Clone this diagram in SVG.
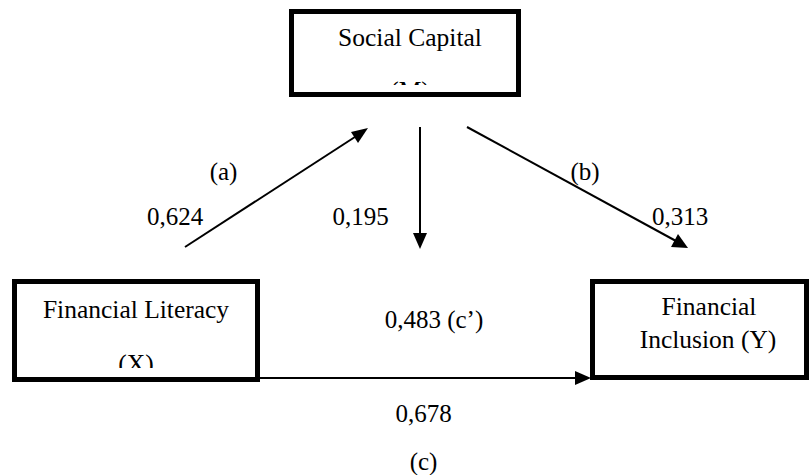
<svg xmlns="http://www.w3.org/2000/svg" width="810" height="475" viewBox="0 0 810 475">
  <style>
    .box { fill: #fff; stroke: #000; stroke-width: 5; }
    .lbl { font-family: 'Liberation Serif', 'DejaVu Serif', serif; font-size: 25.5px; fill: #000; text-anchor: middle; }
    .num { font-family: 'Liberation Serif', 'DejaVu Serif', serif; font-size: 25px; fill: #000; text-anchor: middle; }
  </style>
  <defs>
    <clipPath id="clipM"><rect x="294" y="14" width="222" height="71"/></clipPath>
    <clipPath id="clipX"><rect x="15" y="282" width="242" height="86"/></clipPath>
  </defs>
  <rect width="810" height="475" fill="#fff"/>

  <g id="connectors" stroke="#000" stroke-width="2">
    <line x1="185" y1="247" x2="358" y2="135"/>
    <path d="M368,128 L351,132 L358,143 z" fill="#000" stroke="none"/>
    <line x1="420" y1="127" x2="420" y2="236"/>
    <path d="M413,233 L427,233 L420,249 z" fill="#000" stroke="none"/>
    <line x1="467" y1="127" x2="676" y2="241"/>
    <path d="M688,248 L671,247 L678,234 z" fill="#000" stroke="none"/>
    <line x1="260" y1="378" x2="578" y2="378"/>
    <path d="M591,378 L575,371 L575,385 z" fill="#000" stroke="none"/>
  </g>

  <g id="social-capital">
    <rect class="box" x="291.5" y="11.5" width="227" height="83"/>
    <text class="lbl" x="410" y="46">Social Capital</text>
    <text class="lbl" x="410" y="98.5" clip-path="url(#clipM)">(M)</text>
  </g>

  <g id="financial-literacy">
    <rect class="box" x="14.5" y="281.5" width="243" height="98"/>
    <text class="lbl" x="136" y="318">Financial Literacy</text>
    <text class="lbl" x="136" y="372" clip-path="url(#clipX)">(X)</text>
  </g>

  <g id="financial-inclusion">
    <rect class="box" x="592.5" y="281.5" width="214" height="96"/>
    <text class="lbl" x="709" y="315">Financial</text>
    <text class="lbl" x="708" y="348">Inclusion (Y)</text>
  </g>

  <g id="labels">
    <text class="num" x="223.5" y="180">(a)</text>
    <text class="num" x="175" y="225">0,624</text>
    <text class="num" x="360.5" y="225">0,195</text>
    <text class="num" x="585" y="180">(b)</text>
    <text class="num" x="680" y="225">0,313</text>
    <text class="num" x="434" y="328">0,483 (c’)</text>
    <text class="num" x="423.5" y="422">0,678</text>
    <text class="num" x="423.5" y="470">(c)</text>
  </g>
</svg>
